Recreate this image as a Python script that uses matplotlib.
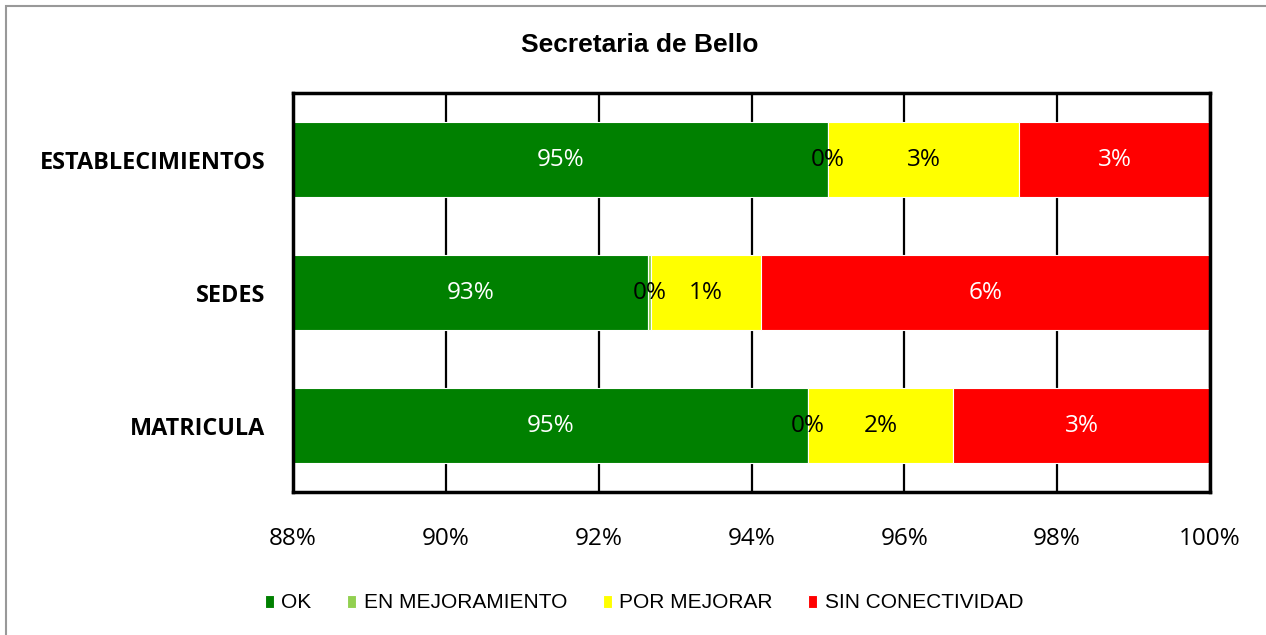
import matplotlib
matplotlib.use("Agg")
import matplotlib.pyplot as plt
from matplotlib.patches import Rectangle

categories = ["ESTABLECIMIENTOS", "SEDES", "MATRICULA"]
series_names = ["OK", "EN MEJORAMIENTO", "POR MEJORAR", "SIN CONECTIVIDAD"]
ok = [95.0, 92.64, 94.74]
en_mejoramiento = [0.0, 0.05, 0.0]
por_mejorar = [2.5, 1.43, 1.90]
sin_conectividad = [2.5, 5.88, 3.36]
colors = ["#008000", "#92D050", "#FFFF00", "#FF0000"]
label_colors = ["white", "black", "black", "white"]
xticks = [88, 90, 92, 94, 96, 98, 100]

series = [ok, en_mejoramiento, por_mejorar, sin_conectividad]
XMIN, XMAX = 88, 100

fig = plt.figure(figsize=(12.66, 6.35), dpi=100)
ax = fig.add_axes([293/1266, 1-492/635, (1210-293)/1266, (492-93)/635])

ypos = [2, 1, 0]
left = [0.0, 0.0, 0.0]
label_font = "Open Sans"
for s, vals in enumerate(series):
    ax.barh(ypos, vals, left=left, height=0.56, color=colors[s],
            edgecolor="white", linewidth=0.8, label=series_names[s], zorder=2)
    for i, v in enumerate(vals):
        a = max(left[i], XMIN)
        b = min(left[i] + v, XMAX)
        cx = (a + b) / 2
        ax.text(cx, ypos[i], f"{int(v + 0.5)}%", ha="center", va="center",
                color=label_colors[s], fontsize=17.5, family=label_font, zorder=3)
        left[i] += v

ax.set_xlim(XMIN, XMAX)
ax.set_ylim(-0.5, 2.5)
ax.set_xticks(xticks)
ax.set_xticklabels([f"{t}%" for t in xticks], fontsize=17.5, family=label_font)
ax.set_yticks(ypos)
ax.set_yticklabels(categories, fontsize=16.8, fontweight="bold", family=label_font)
ax.tick_params(axis="both", length=0)
ax.tick_params(axis="y", pad=20)
ax.tick_params(axis="x", pad=25)
ax.xaxis.grid(True, color="black", linewidth=1.6, zorder=1)
ax.set_axisbelow(True)
for sp in ax.spines.values():
    sp.set_linewidth(2.5)
    sp.set_color("black")

fig.text(640/1266, 1-45/635, "Secretaria de Bello", ha="center", va="center",
         fontsize=19, fontweight="bold", family="Liberation Sans")

leg = fig.legend(loc="center", bbox_to_anchor=(644/1266, 1-603/635), ncol=4,
                 frameon=False, handlelength=0.45, handleheight=0.6,
                 handletextpad=0.35, columnspacing=1.7,
                 prop={"family": "Liberation Sans", "size": 15})

fig.patches.append(Rectangle((6/1266, -0.1), 1.2, 1 - 6/635 + 0.1,
                             transform=fig.transFigure, fill=False,
                             edgecolor="#999999", linewidth=1.5))

fig.savefig("out.png", dpi=100)
